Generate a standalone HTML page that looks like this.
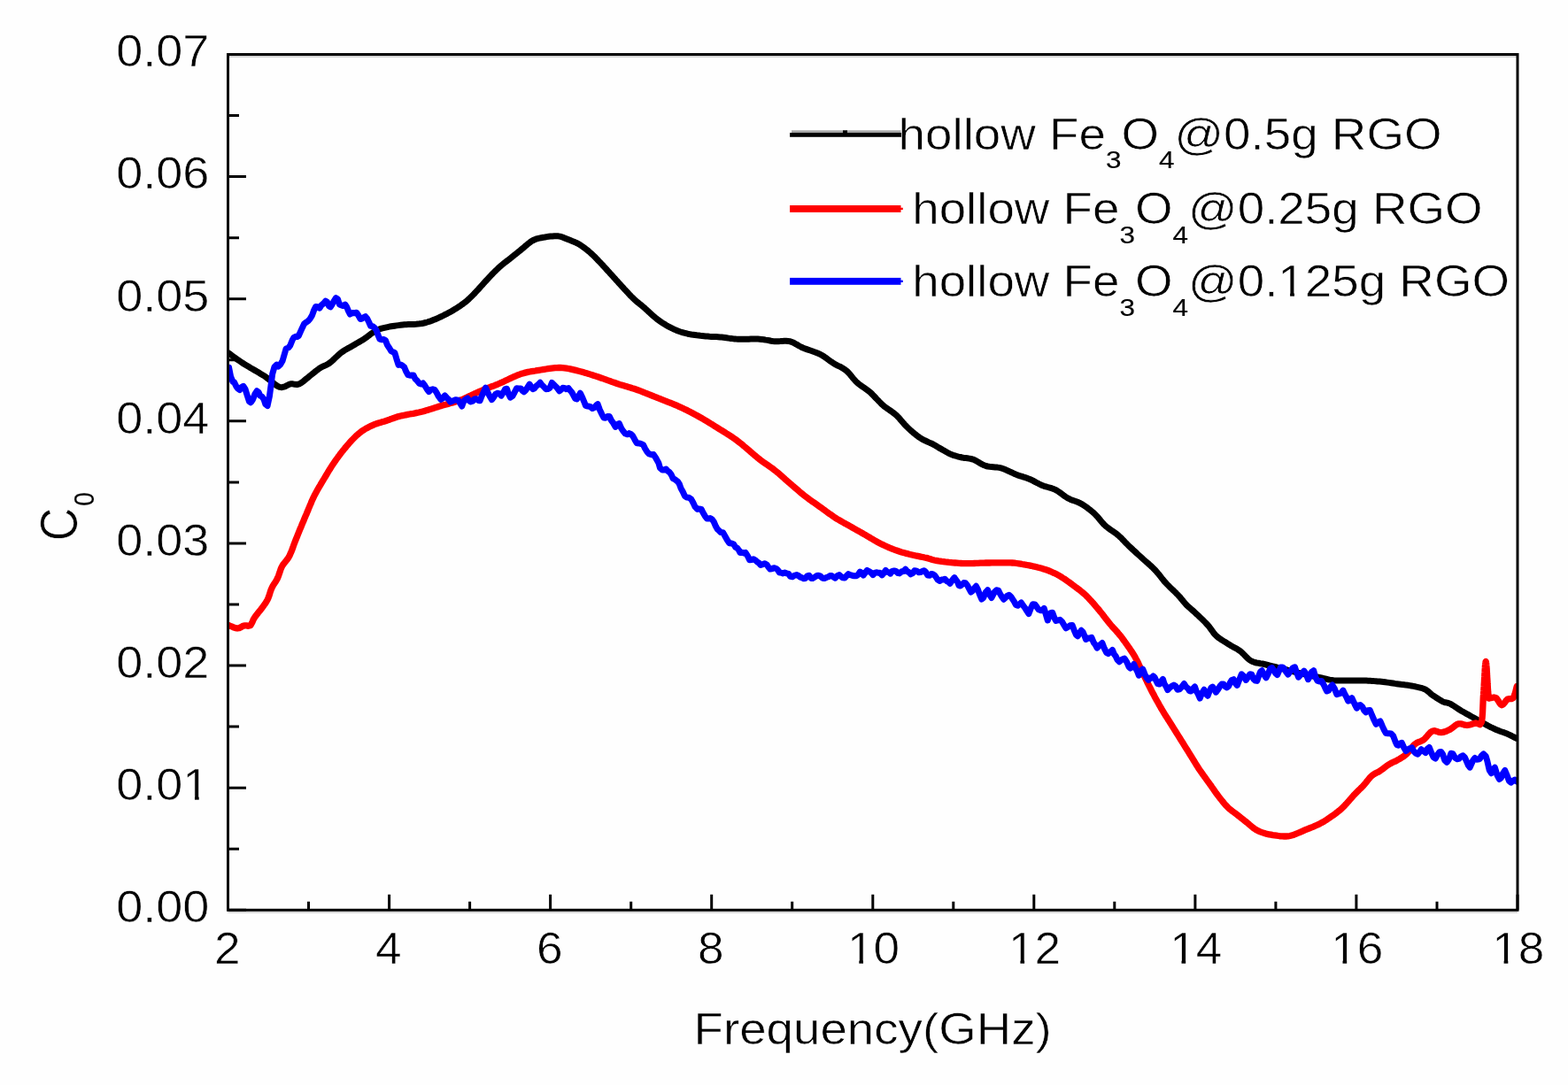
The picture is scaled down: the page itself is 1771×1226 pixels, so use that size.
<!DOCTYPE html>
<html><head><meta charset="utf-8"><title>C0 vs Frequency</title>
<style>
html,body{margin:0;padding:0;background:#fefefe;overflow:hidden}
svg{display:block}
text{font-family:"Liberation Sans",Arial,sans-serif;fill:#000;stroke:#fefefe;stroke-width:0.6px}
.s{stroke:#000;stroke-width:0.15px}
</style></head><body>
<svg width="1771" height="1226" viewBox="0 0 1771 1226">
<rect width="1771" height="1226" fill="#fefefe"/>
<defs><clipPath id="pc"><rect x="257.5" y="61.5" width="1456.5" height="966.8"/></clipPath></defs>
<g fill="none" stroke-linejoin="round" stroke-linecap="round" clip-path="url(#pc)">
<path d="M257.3 398.3L258.3 399.0L259.5 399.9L261.0 401.0L262.6 402.2L264.4 403.5L266.3 404.9L268.3 406.3L270.3 407.7L272.4 409.1L274.5 410.5L276.0 411.5L277.7 412.5L279.4 413.5L281.2 414.6L283.0 415.7L284.9 416.8L286.8 417.9L288.6 418.9L290.5 420.0L292.3 421.1L294.1 422.2L295.8 423.2L297.5 424.2L299.0 425.2L301.0 426.6L303.0 428.1L304.8 429.5L306.6 431.0L308.3 432.4L309.9 433.8L311.5 435.0L313.0 436.0L314.5 436.8L316.0 437.4L318.4 437.7L320.5 437.2L322.6 436.4L324.6 435.3L326.5 434.4L328.3 433.8L330.8 433.8L333.0 434.3L335.3 434.5L338.0 433.8L339.5 433.0L341.1 432.0L342.8 430.7L344.5 429.3L346.3 427.8L348.1 426.4L349.8 424.9L351.4 423.6L352.8 422.5L355.0 420.8L356.8 419.3L358.5 418.0L360.2 416.7L362.0 415.5L364.0 414.4L366.0 413.5L368.1 412.6L370.2 411.5L372.5 410.0L374.0 408.8L375.6 407.4L377.2 405.9L378.8 404.3L380.5 402.7L382.2 401.1L383.9 399.6L385.5 398.3L387.4 397.0L389.2 395.8L391.1 394.7L393.0 393.6L394.9 392.6L396.7 391.6L398.6 390.5L400.5 389.4L402.3 388.3L404.2 387.2L406.1 386.1L408.0 385.0L409.8 383.9L411.7 382.7L413.6 381.4L415.4 380.0L417.3 378.6L419.1 377.1L421.0 375.8L422.8 374.5L424.7 373.5L426.8 372.5L428.9 371.8L431.0 371.1L433.1 370.6L435.4 370.1L437.8 369.6L439.7 369.2L441.7 368.8L443.7 368.5L445.7 368.2L447.9 367.9L450.1 367.6L452.5 367.3L455.0 367.0L456.9 366.8L458.9 366.7L461.0 366.6L463.2 366.6L465.4 366.5L467.6 366.4L469.9 366.3L472.2 366.1L474.4 365.8L476.7 365.5L478.9 365.0L480.8 364.5L482.6 364.0L484.5 363.4L486.4 362.8L488.3 362.1L490.2 361.3L492.1 360.6L493.9 359.8L495.8 358.9L497.7 358.0L499.6 357.1L501.5 356.2L503.4 355.2L505.2 354.3L506.9 353.3L508.7 352.4L510.4 351.4L512.2 350.4L513.9 349.3L515.7 348.2L517.4 347.1L519.2 346.0L520.9 344.7L522.7 343.5L524.4 342.1L526.2 340.8L527.9 339.3L529.4 338.0L530.8 336.6L532.4 335.2L533.9 333.6L535.5 332.0L537.0 330.4L538.6 328.7L540.1 327.1L541.6 325.4L543.1 323.7L544.6 322.1L546.0 320.5L547.4 318.9L548.7 317.5L550.0 316.1L551.2 314.8L552.3 313.6L554.4 311.4L556.2 309.5L557.8 307.9L559.2 306.5L560.5 305.2L561.8 304.0L563.1 302.7L564.6 301.4L566.3 299.9L568.1 298.4L569.8 297.0L571.6 295.7L573.3 294.3L575.1 293.0L576.8 291.6L578.5 290.2L580.3 288.8L582.0 287.4L583.8 286.0L585.5 284.6L587.3 283.2L589.0 281.8L590.8 280.3L592.5 278.8L594.3 277.3L596.0 275.8L597.8 274.4L599.5 273.1L601.3 272.0L603.3 271.0L605.2 270.2L607.1 269.6L609.1 269.1L611.2 268.7L613.5 268.3L615.4 268.0L617.4 267.6L619.6 267.3L621.7 267.1L623.9 266.9L626.1 266.7L628.1 266.7L630.0 266.8L632.3 267.1L634.4 267.7L636.4 268.4L638.3 269.2L640.2 270.0L642.2 270.8L644.2 271.6L646.3 272.4L648.4 273.2L650.4 274.1L652.5 275.2L654.5 276.3L656.2 277.4L658.0 278.6L659.7 279.8L661.5 281.2L663.2 282.5L665.0 284.0L666.7 285.5L668.2 286.9L669.7 288.3L671.3 289.8L672.8 291.3L674.3 292.9L675.8 294.5L677.4 296.1L678.9 297.7L680.3 299.1L681.6 300.6L683.0 302.1L684.4 303.6L685.7 305.1L687.1 306.7L688.5 308.2L689.8 309.7L691.2 311.2L692.6 312.7L693.9 314.2L695.3 315.7L696.6 317.2L698.0 318.7L699.3 320.2L700.7 321.7L702.0 323.1L703.4 324.6L704.9 326.3L706.4 327.9L708.0 329.6L709.5 331.2L711.0 332.9L712.5 334.5L714.1 336.0L715.6 337.5L717.1 338.9L718.7 340.3L720.2 341.6L721.8 342.8L723.3 344.1L724.8 345.3L726.4 346.6L727.9 347.9L729.4 349.3L731.0 350.7L732.5 352.1L734.0 353.5L735.5 354.9L737.1 356.3L738.6 357.6L740.1 358.9L741.8 360.3L743.6 361.6L745.3 362.8L747.1 364.1L748.8 365.2L750.6 366.3L752.3 367.4L754.3 368.6L756.4 369.7L758.4 370.7L760.5 371.7L762.6 372.6L764.6 373.5L766.6 374.3L768.7 375.0L770.7 375.6L772.7 376.2L774.8 376.7L776.8 377.2L778.8 377.6L780.9 378.0L782.9 378.2L784.9 378.5L787.0 378.8L789.0 379.0L791.0 379.3L793.1 379.5L795.1 379.7L797.2 379.9L799.3 380.1L801.3 380.3L803.2 380.4L805.1 380.5L806.9 380.5L808.9 380.6L811.0 380.7L813.5 380.9L815.2 381.1L816.9 381.3L818.8 381.5L820.7 381.8L822.7 382.1L824.7 382.4L826.8 382.6L829.0 382.9L831.2 383.1L833.4 383.2L835.3 383.3L837.3 383.3L839.4 383.3L841.5 383.3L843.7 383.2L845.8 383.2L848.0 383.1L850.1 383.1L852.2 383.1L854.2 383.1L856.1 383.1L857.9 383.2L860.4 383.4L862.7 383.7L864.9 384.1L866.9 384.4L868.9 384.8L870.9 385.2L872.9 385.5L875.0 385.7L877.1 385.8L879.3 385.7L881.5 385.6L883.6 385.4L885.8 385.3L887.9 385.2L890.0 385.4L892.0 385.7L893.9 386.3L895.7 387.0L897.5 387.9L899.2 388.9L901.0 389.9L902.8 391.0L904.7 392.0L906.8 393.0L908.6 393.7L910.5 394.4L912.5 395.1L914.5 395.8L916.6 396.5L918.7 397.3L920.7 398.0L922.7 398.8L924.6 399.6L926.4 400.4L928.5 401.5L930.4 402.7L932.2 404.0L934.0 405.2L935.7 406.5L937.5 407.8L939.2 409.0L941.0 410.2L942.8 411.3L944.7 412.3L946.6 413.3L948.5 414.2L950.4 415.2L952.2 416.3L954.0 417.4L955.7 418.7L957.2 420.0L958.5 421.4L959.9 422.9L961.2 424.5L962.5 426.1L963.8 427.7L965.2 429.3L966.5 430.8L968.0 432.2L969.5 433.5L971.1 434.7L972.7 435.9L974.4 437.1L976.0 438.2L977.7 439.4L979.4 440.6L981.1 441.8L982.7 443.2L984.2 444.5L985.6 446.0L987.1 447.5L988.5 449.0L990.0 450.6L991.5 452.1L992.9 453.6L994.4 455.1L995.8 456.6L997.3 457.9L998.9 459.3L1000.6 460.5L1002.3 461.8L1004.0 462.9L1005.6 464.0L1007.3 465.2L1008.9 466.4L1010.5 467.6L1012.0 468.9L1013.5 470.3L1014.8 471.7L1016.2 473.2L1017.5 474.8L1018.8 476.3L1020.1 477.8L1021.5 479.4L1022.8 480.8L1024.3 482.3L1025.8 483.7L1027.4 485.2L1029.0 486.7L1030.7 488.1L1032.3 489.5L1034.0 490.9L1035.7 492.2L1037.4 493.5L1039.0 494.6L1040.9 495.8L1042.8 496.8L1044.7 497.8L1046.7 498.7L1048.6 499.6L1050.4 500.4L1052.1 501.1L1053.6 501.9L1056.1 503.3L1058.0 504.4L1059.9 505.6L1062.2 506.9L1064.0 507.9L1066.0 509.1L1068.1 510.3L1070.3 511.5L1072.4 512.6L1074.5 513.5L1076.5 514.3L1078.6 514.9L1080.6 515.5L1082.6 516.1L1084.7 516.5L1086.7 517.0L1088.7 517.4L1090.7 517.6L1092.7 517.8L1094.7 518.1L1096.8 518.5L1099.0 519.1L1100.7 519.8L1102.4 520.7L1104.2 521.7L1106.0 522.8L1107.8 523.9L1109.7 524.9L1111.6 525.8L1113.6 526.5L1115.6 527.0L1117.7 527.3L1119.8 527.5L1122.0 527.7L1124.2 527.9L1126.4 528.1L1128.5 528.4L1130.7 528.9L1132.6 529.5L1134.6 530.3L1136.5 531.1L1138.5 532.0L1140.4 532.9L1142.4 533.8L1144.3 534.7L1146.1 535.6L1147.9 536.3L1150.1 537.1L1152.3 537.8L1154.3 538.4L1156.4 539.1L1158.4 539.7L1160.4 540.4L1162.5 541.2L1164.3 542.0L1166.2 542.9L1168.0 543.9L1169.8 544.9L1171.7 545.8L1173.5 546.8L1175.4 547.7L1177.2 548.5L1179.3 549.3L1181.4 549.9L1183.5 550.5L1185.7 551.1L1187.8 551.7L1189.9 552.5L1192.0 553.4L1193.8 554.4L1195.7 555.6L1197.5 556.9L1199.3 558.2L1201.1 559.6L1202.9 560.9L1204.8 562.1L1206.6 563.2L1208.7 564.2L1210.8 565.1L1212.9 565.8L1215.0 566.5L1217.1 567.3L1219.2 568.2L1221.3 569.3L1222.9 570.3L1224.6 571.4L1226.3 572.5L1228.0 573.7L1229.6 575.0L1231.3 576.3L1232.9 577.6L1234.5 578.9L1236.0 580.3L1237.5 581.7L1238.8 583.2L1240.2 584.7L1241.5 586.3L1242.7 587.8L1244.0 589.4L1245.4 590.9L1246.7 592.4L1248.2 593.8L1249.7 595.1L1251.3 596.4L1253.0 597.6L1254.7 598.8L1256.4 600.0L1258.1 601.1L1259.8 602.3L1261.4 603.5L1262.9 604.8L1264.5 606.3L1266.1 607.7L1267.5 609.2L1269.0 610.7L1270.5 612.3L1271.9 613.8L1273.5 615.4L1275.1 617.0L1276.6 618.4L1278.2 619.9L1279.8 621.4L1281.5 622.9L1283.1 624.4L1284.8 626.0L1286.5 627.5L1288.2 629.0L1289.8 630.5L1291.4 632.0L1293.1 633.5L1294.8 635.0L1296.5 636.4L1298.1 637.9L1299.8 639.4L1301.4 640.9L1303.0 642.5L1304.5 644.0L1306.0 645.6L1307.3 647.2L1308.7 648.8L1310.0 650.4L1311.2 652.0L1312.5 653.7L1313.9 655.3L1315.2 657.0L1316.7 658.6L1318.1 660.1L1319.6 661.6L1321.1 663.2L1322.7 664.7L1324.3 666.2L1325.9 667.8L1327.4 669.2L1328.8 670.7L1330.2 672.0L1331.4 673.3L1333.1 675.2L1334.5 676.9L1335.8 678.5L1337.0 680.0L1338.3 681.5L1339.8 683.2L1341.1 684.5L1342.6 685.9L1344.1 687.2L1345.7 688.6L1347.3 690.0L1348.9 691.4L1350.4 692.9L1352.0 694.3L1353.6 695.8L1355.1 697.3L1356.7 698.8L1358.3 700.3L1359.9 701.9L1361.4 703.4L1362.9 705.0L1364.3 706.5L1365.8 708.3L1367.1 710.1L1368.4 711.9L1369.6 713.6L1370.9 715.4L1372.4 717.1L1374.0 718.7L1375.6 720.1L1377.4 721.4L1379.3 722.7L1381.2 723.9L1383.1 725.1L1385.1 726.3L1386.9 727.4L1388.7 728.5L1390.6 729.7L1392.4 730.7L1394.1 731.7L1395.9 732.6L1397.6 733.6L1399.3 734.7L1401.0 735.9L1402.5 737.2L1404.0 738.6L1405.5 740.1L1406.9 741.6L1408.4 743.2L1410.0 744.6L1411.6 745.9L1413.2 746.9L1415.2 747.8L1417.2 748.5L1419.3 749.0L1421.5 749.3L1423.6 749.7L1425.8 750.0L1427.9 750.5L1429.9 751.0L1431.8 751.5L1433.7 752.0L1435.6 752.4L1437.7 753.0L1440.0 753.5L1442.6 754.2L1444.3 754.6L1446.1 755.1L1448.1 755.6L1450.1 756.1L1452.2 756.6L1454.3 757.2L1456.5 757.7L1458.7 758.3L1460.8 758.8L1463.0 759.3L1465.0 759.8L1467.0 760.3L1469.1 760.8L1471.2 761.3L1473.3 761.8L1475.4 762.2L1477.4 762.7L1479.5 763.1L1481.5 763.6L1483.4 764.0L1485.3 764.4L1487.2 764.8L1489.0 765.2L1491.4 765.7L1493.6 766.2L1495.7 766.8L1497.8 767.2L1499.8 767.7L1501.9 768.1L1504.0 768.4L1506.2 768.7L1508.3 768.9L1510.4 769.0L1512.5 769.0L1514.7 769.1L1516.9 769.0L1519.1 769.0L1521.3 769.0L1523.5 769.0L1525.7 769.0L1527.9 769.0L1530.1 769.0L1532.3 769.0L1534.5 769.0L1536.8 769.0L1538.9 769.1L1541.1 769.1L1543.2 769.1L1545.3 769.2L1547.6 769.3L1549.7 769.4L1551.9 769.6L1554.0 769.7L1556.1 769.9L1558.2 770.1L1560.3 770.3L1562.4 770.5L1564.6 770.8L1566.8 771.1L1569.0 771.4L1571.2 771.7L1573.3 772.0L1575.5 772.4L1577.6 772.7L1579.6 773.0L1581.8 773.3L1584.0 773.6L1586.1 773.8L1588.1 774.1L1590.2 774.3L1592.2 774.6L1594.3 775.0L1596.4 775.4L1598.6 775.8L1600.9 776.3L1603.0 776.8L1605.2 777.3L1607.2 778.0L1609.0 778.7L1610.9 779.7L1612.5 780.9L1614.1 782.1L1615.5 783.5L1617.0 784.8L1618.7 786.0L1620.5 787.2L1622.5 788.5L1624.5 789.8L1626.5 791.0L1628.3 792.1L1630.0 793.0L1632.6 793.8L1634.7 794.1L1637.5 795.0L1639.1 795.9L1640.8 796.9L1642.7 798.1L1644.6 799.4L1646.6 800.7L1648.6 802.0L1650.5 803.2L1652.4 804.3L1654.2 805.3L1656.1 806.4L1658.0 807.4L1659.9 808.4L1661.7 809.5L1663.6 810.5L1665.5 811.6L1667.3 812.6L1669.2 813.7L1671.0 814.8L1672.9 815.8L1674.7 816.9L1676.6 817.9L1678.5 818.9L1680.3 819.9L1682.2 820.8L1684.1 821.8L1686.0 822.7L1687.8 823.6L1689.7 824.4L1691.9 825.3L1694.2 826.2L1696.4 827.0L1698.6 827.7L1700.7 828.5L1702.7 829.3L1705.0 830.4L1707.3 831.5L1709.4 832.6L1711.2 833.5L1712.5 834.2" stroke="#000" stroke-width="7.0"/>
<path d="M257.3 706.0L258.8 706.7L260.9 707.7L263.4 708.7L265.9 709.6L268.0 710.0L270.2 709.6L272.3 708.6L274.2 707.5L276.0 706.8L278.4 706.9L280.6 707.3L282.6 706.8L283.6 705.6L284.5 703.9L285.4 701.9L286.3 699.8L287.5 697.8L288.7 696.1L290.1 694.4L291.5 692.5L293.0 690.7L294.4 688.9L295.7 687.2L297.1 685.3L298.5 683.4L299.8 681.6L301.0 679.6L302.2 677.5L303.1 675.5L303.9 673.3L304.6 671.1L305.3 668.8L306.1 666.5L307.0 664.4L308.0 662.4L309.1 660.5L310.3 658.7L311.5 656.9L312.6 655.0L313.6 653.0L314.5 650.9L315.2 648.7L316.0 646.5L316.7 644.3L317.5 642.1L318.5 640.0L319.5 638.3L320.7 636.7L321.9 635.2L323.1 633.7L324.4 632.1L325.6 630.4L326.7 628.5L327.6 626.7L328.4 624.7L329.3 622.7L330.1 620.6L330.9 618.5L331.6 616.3L332.4 614.2L333.2 612.2L334.0 610.2L334.7 608.3L335.5 606.5L336.2 604.6L337.0 602.7L337.8 600.7L338.6 598.7L339.5 596.5L340.3 594.7L341.1 592.7L341.9 590.7L342.8 588.7L343.6 586.6L344.5 584.5L345.4 582.4L346.3 580.4L347.1 578.4L347.9 576.5L348.7 574.5L349.5 572.6L350.3 570.7L351.1 568.9L351.8 567.1L352.6 565.3L353.4 563.5L354.3 561.7L355.2 559.8L356.2 557.9L357.2 556.1L358.2 554.2L359.3 552.4L360.3 550.5L361.5 548.6L362.6 546.7L363.8 544.7L365.0 542.7L366.0 541.0L367.0 539.3L368.1 537.5L369.2 535.7L370.2 533.9L371.3 532.1L372.5 530.3L373.6 528.4L374.8 526.6L376.0 524.8L377.2 523.0L378.3 521.4L379.5 519.7L380.7 518.0L381.9 516.3L383.2 514.6L384.4 512.9L385.7 511.3L387.0 509.6L388.3 508.0L389.5 506.5L390.8 505.0L392.0 503.5L393.5 501.8L394.9 500.2L396.4 498.5L397.8 497.0L399.3 495.5L400.8 494.0L402.2 492.6L403.7 491.3L405.1 490.0L406.6 488.8L408.4 487.4L410.3 486.2L412.1 485.0L413.9 483.9L415.8 482.9L417.6 482.0L419.5 481.1L421.3 480.3L423.4 479.4L425.4 478.7L427.5 478.0L429.6 477.4L431.7 476.8L433.8 476.2L436.0 475.5L437.9 474.8L439.9 474.2L441.8 473.4L443.8 472.7L445.9 472.0L448.0 471.3L450.2 470.6L452.6 470.0L454.4 469.6L456.3 469.2L458.3 468.8L460.4 468.4L462.5 468.0L464.6 467.6L466.7 467.3L468.9 466.9L471.0 466.4L473.1 466.0L475.2 465.5L477.3 465.0L479.3 464.4L481.4 463.8L483.4 463.2L485.5 462.6L487.5 461.9L489.6 461.3L491.6 460.6L493.7 460.0L495.7 459.3L497.8 458.7L499.8 458.1L501.9 457.5L503.9 457.0L506.0 456.4L508.0 455.8L510.1 455.3L512.1 454.7L514.2 454.1L516.2 453.4L518.3 452.7L520.3 452.0L522.2 451.3L524.1 450.5L525.9 449.7L527.8 448.8L529.7 447.9L531.6 447.0L533.5 446.1L535.4 445.2L537.2 444.4L539.1 443.5L541.0 442.6L542.9 441.8L544.8 441.0L546.7 440.2L548.5 439.5L550.4 438.7L552.3 438.0L554.2 437.2L556.1 436.5L558.0 435.8L559.9 435.0L561.7 434.3L563.6 433.5L565.5 432.7L567.4 431.9L569.3 431.0L571.1 430.1L573.0 429.2L574.9 428.3L576.8 427.4L578.7 426.5L580.6 425.6L582.5 424.8L584.3 424.0L586.2 423.3L588.1 422.6L590.2 422.0L592.2 421.4L594.3 420.9L596.3 420.4L598.4 420.0L600.4 419.6L602.5 419.3L604.6 419.0L606.6 418.6L608.7 418.3L610.7 418.0L612.7 417.7L614.8 417.3L616.9 417.0L618.9 416.7L621.0 416.4L623.1 416.1L625.1 415.9L627.1 415.7L629.1 415.6L631.1 415.5L633.0 415.5L635.3 415.6L637.5 415.8L639.6 416.1L641.7 416.5L643.8 416.9L645.9 417.4L648.1 417.9L650.3 418.4L652.6 419.0L654.5 419.5L656.5 420.0L658.5 420.6L660.6 421.2L662.7 421.8L664.8 422.4L666.9 423.1L669.0 423.8L671.1 424.5L673.1 425.1L675.2 425.8L677.3 426.5L679.3 427.2L681.4 427.9L683.4 428.6L685.5 429.4L687.5 430.1L689.6 430.8L691.6 431.6L693.7 432.3L695.7 433.0L697.8 433.7L699.8 434.4L701.9 435.0L703.9 435.6L706.0 436.2L708.0 436.8L710.1 437.4L712.1 438.0L714.2 438.7L716.2 439.3L718.3 440.0L720.3 440.7L722.2 441.4L724.1 442.1L725.9 442.8L727.8 443.6L729.7 444.3L731.6 445.1L733.5 445.8L735.4 446.6L737.2 447.4L739.1 448.2L741.0 448.9L742.9 449.7L744.8 450.4L746.7 451.2L748.5 451.9L750.4 452.6L752.3 453.3L754.2 454.1L756.1 454.8L758.0 455.5L759.9 456.3L761.7 457.1L763.6 457.9L765.5 458.7L767.4 459.6L769.3 460.4L771.1 461.3L773.0 462.2L774.9 463.1L776.8 464.1L778.7 465.0L780.6 466.0L782.5 467.0L784.3 468.0L786.2 469.0L788.1 470.0L789.8 471.0L791.6 472.0L793.4 473.0L795.2 474.1L796.9 475.1L798.7 476.2L800.5 477.3L802.2 478.4L804.0 479.4L805.7 480.5L807.4 481.6L809.1 482.6L810.7 483.6L812.6 484.8L814.5 486.0L816.4 487.1L818.3 488.3L820.1 489.5L821.9 490.6L823.7 491.8L825.4 492.9L827.0 493.9L828.5 495.0L830.0 496.0L832.1 497.5L833.8 498.8L835.4 500.1L837.0 501.3L838.5 502.6L840.1 504.0L842.0 505.5L843.4 506.7L844.9 508.0L846.4 509.3L848.0 510.7L849.6 512.1L851.3 513.5L852.9 514.9L854.6 516.3L856.2 517.7L857.9 519.0L859.6 520.3L861.2 521.5L862.9 522.7L864.7 523.9L866.4 525.1L868.1 526.3L869.8 527.5L871.6 528.7L873.3 530.0L875.0 531.3L876.5 532.5L878.1 533.8L879.6 535.1L881.2 536.5L882.7 537.8L884.3 539.2L885.8 540.6L887.3 541.9L888.9 543.3L890.4 544.7L892.0 546.0L893.6 547.3L895.1 548.7L896.7 550.1L898.3 551.4L899.9 552.8L901.4 554.1L903.0 555.5L904.6 556.8L906.2 558.1L907.7 559.4L909.3 560.6L911.0 561.9L912.7 563.2L914.4 564.5L916.2 565.7L917.9 566.9L919.6 568.1L921.3 569.3L923.0 570.5L924.7 571.7L926.4 572.9L928.1 574.1L929.8 575.4L931.5 576.6L933.2 577.9L935.0 579.2L936.7 580.4L938.4 581.6L940.1 582.8L941.8 584.0L943.5 585.1L945.4 586.3L947.3 587.4L949.2 588.5L951.1 589.6L953.0 590.7L954.9 591.7L956.8 592.8L958.7 593.8L960.6 594.9L962.5 596.0L964.4 597.1L966.3 598.2L968.2 599.3L970.2 600.3L972.1 601.4L974.0 602.5L975.9 603.6L977.8 604.7L979.7 605.8L981.6 606.9L983.5 608.1L985.4 609.2L987.3 610.3L989.2 611.4L991.1 612.5L993.0 613.5L994.9 614.5L996.8 615.4L998.7 616.3L1000.6 617.2L1002.5 618.0L1004.4 618.9L1006.3 619.6L1008.2 620.4L1010.1 621.1L1012.0 621.8L1014.1 622.5L1016.2 623.2L1018.4 623.9L1020.5 624.5L1022.6 625.1L1024.7 625.6L1026.9 626.2L1029.0 626.7L1031.2 627.2L1033.4 627.7L1035.6 628.2L1037.9 628.6L1040.1 629.1L1042.2 629.5L1044.3 630.0L1046.3 630.4L1048.3 630.9L1050.1 631.4L1051.7 632.0L1053.3 632.5L1055.2 633.0L1057.3 633.4L1060.0 633.9L1061.7 634.1L1063.5 634.4L1065.4 634.6L1067.5 634.9L1069.6 635.1L1071.8 635.4L1074.1 635.6L1076.4 635.8L1078.7 636.0L1081.0 636.2L1083.3 636.4L1085.5 636.5L1087.7 636.6L1089.8 636.7L1092.0 636.7L1094.1 636.7L1096.2 636.6L1098.4 636.6L1100.5 636.5L1102.7 636.4L1104.8 636.3L1107.0 636.2L1109.1 636.2L1111.2 636.1L1113.4 636.0L1115.5 636.0L1117.7 636.0L1119.9 635.9L1122.1 635.9L1124.4 635.9L1126.7 635.8L1128.9 635.8L1131.2 635.8L1133.3 635.8L1135.5 635.8L1137.6 635.8L1139.5 635.9L1141.4 635.9L1143.2 636.0L1145.9 636.2L1148.3 636.5L1150.6 636.8L1152.7 637.1L1154.6 637.5L1156.5 637.8L1158.3 638.2L1160.0 638.5L1162.5 638.9L1164.6 639.3L1166.6 639.8L1168.6 640.2L1170.9 640.8L1172.7 641.3L1174.7 641.8L1176.7 642.3L1178.7 642.9L1180.7 643.5L1182.8 644.2L1184.8 645.0L1186.8 645.8L1188.7 646.7L1190.7 647.6L1192.7 648.6L1194.7 649.6L1196.6 650.7L1198.6 651.9L1200.3 653.0L1202.1 654.1L1203.8 655.3L1205.5 656.5L1207.3 657.7L1209.0 659.0L1210.8 660.3L1212.5 661.6L1214.2 662.9L1216.0 664.2L1217.7 665.5L1219.5 666.8L1221.2 668.2L1222.9 669.6L1224.7 671.1L1226.4 672.7L1227.8 674.1L1229.2 675.5L1230.5 676.9L1231.9 678.4L1233.3 680.0L1234.7 681.5L1236.1 683.1L1237.4 684.7L1238.8 686.4L1240.2 688.0L1241.5 689.5L1242.8 691.2L1244.1 692.8L1245.5 694.5L1246.8 696.3L1248.1 698.0L1249.4 699.6L1250.7 701.2L1251.9 702.8L1253.0 704.2L1254.1 705.5L1255.8 707.5L1257.4 709.3L1258.8 710.8L1260.0 712.1L1261.3 713.5L1262.6 715.0L1263.8 716.5L1265.0 717.9L1266.1 719.2L1267.2 720.7L1268.5 722.5L1270.0 724.5L1271.0 725.9L1272.1 727.5L1273.3 729.1L1274.5 730.8L1275.8 732.6L1277.0 734.5L1278.3 736.4L1279.5 738.2L1280.7 740.1L1281.8 742.0L1282.8 743.9L1283.8 745.7L1284.8 747.6L1285.7 749.6L1286.6 751.5L1287.5 753.5L1288.4 755.5L1289.3 757.5L1290.2 759.5L1291.2 761.5L1292.1 763.4L1293.1 765.3L1294.0 767.2L1295.0 769.2L1295.9 771.1L1296.9 773.1L1297.9 775.1L1298.9 777.0L1299.9 779.0L1300.8 780.8L1301.8 782.7L1302.9 784.7L1303.9 786.7L1305.0 788.7L1306.0 790.6L1307.1 792.5L1308.2 794.4L1309.2 796.3L1310.3 798.1L1311.3 800.0L1312.4 801.8L1313.5 803.6L1314.5 805.3L1315.6 807.1L1316.6 808.8L1317.7 810.4L1318.8 812.1L1319.8 813.8L1320.9 815.4L1321.9 817.1L1323.0 818.8L1324.2 820.7L1325.4 822.6L1326.5 824.4L1327.7 826.3L1328.9 828.2L1330.1 830.1L1331.2 831.9L1332.4 833.8L1333.6 835.7L1334.7 837.4L1335.7 839.1L1336.8 840.8L1337.8 842.5L1338.9 844.2L1340.0 845.9L1341.0 847.6L1342.1 849.3L1343.1 851.0L1344.2 852.7L1345.3 854.4L1346.3 856.1L1347.4 857.9L1348.4 859.6L1349.5 861.3L1350.6 863.1L1351.6 864.8L1352.7 866.4L1353.7 868.1L1354.8 869.7L1356.0 871.4L1357.2 873.1L1358.3 874.8L1359.5 876.4L1360.7 878.0L1361.9 879.6L1363.0 881.2L1364.2 882.9L1365.4 884.5L1366.6 886.2L1367.8 887.8L1368.9 889.5L1370.1 891.2L1371.3 892.9L1372.5 894.6L1373.6 896.2L1374.8 897.8L1376.0 899.4L1377.3 901.1L1378.6 902.8L1380.0 904.5L1381.3 906.1L1382.6 907.7L1383.9 909.3L1385.3 910.7L1386.6 912.1L1388.4 913.8L1390.2 915.2L1391.9 916.6L1393.7 917.9L1395.5 919.2L1397.3 920.6L1399.1 922.0L1400.8 923.4L1402.6 924.8L1404.4 926.2L1406.1 927.6L1407.9 929.0L1409.7 930.5L1411.4 932.0L1413.2 933.5L1415.0 935.0L1416.7 936.3L1418.5 937.5L1420.6 938.7L1422.7 939.6L1424.8 940.4L1426.9 941.1L1429.0 941.8L1431.1 942.4L1433.3 942.8L1435.4 943.2L1437.6 943.6L1439.7 943.9L1441.8 944.2L1444.0 944.5L1446.2 944.8L1448.3 944.9L1450.3 945.0L1452.6 945.0L1454.7 944.9L1457.0 944.5L1459.7 943.8L1461.5 943.2L1463.5 942.4L1465.6 941.5L1467.8 940.6L1470.1 939.6L1472.3 938.6L1474.4 937.7L1476.5 936.8L1478.6 936.0L1480.8 935.1L1482.9 934.3L1485.0 933.4L1487.0 932.5L1489.0 931.6L1490.9 930.7L1492.6 929.7L1494.3 928.8L1496.0 927.8L1497.7 926.7L1499.4 925.6L1501.3 924.3L1502.8 923.2L1504.4 922.1L1506.1 921.0L1507.7 919.8L1509.4 918.5L1511.1 917.2L1512.7 915.9L1514.4 914.4L1516.0 913.0L1517.4 911.6L1518.9 910.1L1520.3 908.6L1521.8 906.9L1523.2 905.3L1524.6 903.7L1526.0 902.1L1527.3 900.6L1528.6 899.1L1529.8 897.8L1531.7 895.9L1533.4 894.2L1534.9 892.7L1536.5 891.2L1538.0 889.7L1539.6 888.0L1541.0 886.4L1542.4 884.7L1543.8 882.9L1545.2 881.2L1546.6 879.5L1548.0 877.9L1549.4 876.6L1551.3 875.1L1553.2 874.0L1555.1 873.0L1557.1 872.1L1559.0 870.9L1560.6 869.7L1562.3 868.5L1564.0 867.2L1565.7 865.9L1567.3 864.7L1569.0 863.6L1571.0 862.5L1572.9 861.5L1574.8 860.7L1576.8 859.8L1578.7 858.7L1580.7 857.6L1582.6 856.4L1584.6 855.2L1586.5 853.8L1588.5 852.1L1589.9 850.7L1591.3 849.0L1592.7 847.2L1594.1 845.4L1595.5 843.6L1596.9 842.0L1598.3 840.7L1600.2 839.4L1602.2 838.5L1604.1 837.8L1606.0 837.0L1608.0 835.8L1609.6 834.3L1611.3 832.5L1612.9 830.5L1614.6 828.6L1616.3 827.0L1617.9 826.0L1620.4 825.7L1622.8 826.4L1625.3 827.4L1627.7 827.7L1629.7 827.4L1631.6 826.9L1633.6 826.2L1635.5 825.3L1637.5 824.4L1639.4 823.2L1641.4 821.6L1643.3 820.1L1645.3 818.7L1647.2 817.9L1649.6 817.8L1652.1 818.4L1654.5 819.2L1657.0 819.5L1659.0 819.2L1661.1 818.7L1663.1 818.1L1665.1 817.5L1666.8 817.0L1669.4 817.7L1671.6 818.7L1673.3 816.2L1673.6 815.0L1673.8 813.6L1674.0 812.0L1674.2 810.2L1674.3 808.3L1674.5 806.2L1674.6 804.0L1674.7 801.7L1674.8 799.4L1674.9 797.0L1675.0 794.6L1675.1 792.1L1675.2 789.7L1675.3 787.3L1675.5 785.0L1675.6 783.0L1675.8 780.7L1675.9 778.3L1676.1 775.7L1676.2 773.0L1676.4 770.3L1676.5 767.5L1676.7 764.7L1676.8 762.1L1677.0 759.5L1677.1 757.1L1677.3 754.8L1677.4 752.8L1677.6 751.1L1677.7 749.7L1677.9 748.6L1678.0 747.9L1678.2 747.7L1678.4 748.0L1678.5 748.8L1678.7 750.0L1678.8 751.6L1679.0 753.6L1679.2 755.9L1679.3 758.4L1679.5 761.0L1679.6 763.8L1679.8 766.6L1680.0 769.5L1680.1 772.3L1680.3 775.0L1680.4 777.6L1680.6 779.9L1680.7 781.9L1680.9 783.7L1681.0 785.0L1681.8 789.1L1683.1 788.5L1685.0 788.5L1687.3 788.0L1689.7 788.5L1691.0 789.9L1692.3 791.9L1693.6 794.1L1694.9 795.9L1696.2 796.7L1697.8 796.0L1699.5 794.0L1701.1 791.7L1702.7 790.1L1705.0 789.6L1707.2 789.7L1709.2 788.5L1710.1 786.8L1710.9 784.5L1711.7 781.9L1712.3 779.3L1712.9 777.0L1713.3 775.5" stroke="#f00" stroke-width="7.3"/>
<path d="M258.6 415.4L260.6 425.7L263.0 431.4L264.6 431.9L266.9 436.7L268.9 439.2L270.7 440.6L272.4 437.8L274.9 436.3L277.0 439.6L279.2 446.7L281.4 453.5L283.1 454.9L285.5 451.4L288.0 445.1L290.1 441.8L292.2 443.4L293.8 447.2L295.9 448.2L298.0 451.1L299.9 456.8L302.1 458.5L304.4 447.7L306.0 435.7L307.7 422.4L310.0 414.5L312.5 412.2L314.2 414.0L316.7 411.8L319.2 407.4L321.3 400.1L323.1 394.0L325.7 392.9L327.7 390.5L330.2 384.2L331.9 381.3L333.9 380.3L335.6 380.6L337.3 379.5L339.6 374.4L341.4 370.4L343.5 366.0L345.6 364.3L348.1 362.6L350.0 360.5L352.5 356.4L354.7 350.3L356.6 346.5L358.7 346.8L361.0 348.1L362.8 345.2L365.3 343.0L367.8 340.2L369.5 341.3L371.5 345.7L373.2 346.8L374.9 344.5L377.2 340.1L379.4 336.7L381.5 338.2L383.4 344.0L385.8 345.0L387.6 345.6L389.8 344.1L391.6 346.7L393.5 351.4L395.4 355.0L398.0 353.6L400.2 353.8L402.7 353.3L404.7 356.3L407.1 360.5L408.8 360.1L410.9 358.7L412.8 357.7L414.5 359.7L416.7 364.0L418.6 368.4L420.9 368.7L422.7 370.0L425.0 372.9L426.7 377.8L428.9 383.1L431.4 383.8L433.5 383.5L435.4 384.5L437.4 389.8L439.9 393.5L441.8 396.6L443.8 397.7L445.8 398.5L447.9 405.6L450.1 412.4L452.2 411.9L454.6 413.2L456.5 414.7L458.6 419.6L460.8 423.7L463.0 424.2L464.7 424.1L467.1 424.1L468.8 427.9L471.3 430.3L473.5 433.2L475.8 434.1L477.7 433.0L480.0 436.0L482.4 439.9L484.3 442.6L486.6 440.4L488.8 439.8L491.1 440.6L493.1 443.7L495.3 447.8L497.8 451.3L500.2 450.0L502.5 447.0L504.8 449.6L506.8 451.3L508.6 454.2L511.1 453.3L512.9 452.3L514.9 451.7L517.5 452.1L519.4 455.2L521.7 459.0L523.4 454.3L525.5 451.4L528.0 449.9L529.7 452.5L531.5 453.9L533.9 453.1L535.7 451.0L537.6 450.6L539.9 452.3L542.1 452.8L544.1 447.6L546.6 442.2L548.6 438.1L551.1 443.8L553.0 447.5L555.5 451.6L557.5 449.1L559.6 445.5L562.2 444.3L564.0 444.9L566.1 447.1L568.5 443.4L570.7 439.6L572.5 439.2L574.3 445.0L576.4 449.1L579.0 447.3L581.2 443.3L583.5 438.7L586.0 438.9L588.4 438.9L590.3 441.7L591.9 442.8L594.0 440.7L596.2 437.2L598.1 434.2L600.1 437.4L601.8 439.6L603.6 439.0L605.7 436.2L608.2 434.2L610.1 432.3L612.0 434.8L614.3 437.2L616.6 439.7L618.6 439.6L621.2 438.1L623.4 432.4L625.4 434.4L627.2 436.3L629.3 438.3L631.9 441.8L633.7 440.3L635.6 438.3L637.7 438.4L639.7 439.7L641.9 438.5L643.7 440.8L645.7 443.0L647.8 446.8L649.7 450.5L651.4 451.0L653.1 448.4L655.4 444.2L657.4 448.4L659.6 453.6L661.5 458.5L663.2 459.0L664.9 459.1L666.9 459.7L669.1 461.5L671.6 460.3L673.5 458.0L675.1 456.6L677.4 463.0L679.8 468.1L682.0 472.0L683.9 472.2L686.2 470.6L688.2 470.4L690.5 475.1L692.8 478.2L695.1 482.4L697.3 479.4L699.4 478.6L701.7 483.9L703.8 487.1L706.2 490.0L708.8 490.8L710.6 489.6L712.4 490.4L714.7 492.6L717.3 497.4L719.3 500.8L721.9 500.9L724.4 501.6L726.6 502.6L728.4 506.5L731.0 510.8L733.2 513.0L735.6 513.7L738.1 513.6L740.3 516.7L742.1 520.0L743.8 522.9L745.5 528.9L748.1 531.0L750.0 531.1L752.3 530.0L754.5 532.5L756.1 533.5L758.2 536.4L760.2 540.8L762.0 541.5L763.8 542.8L765.8 544.5L767.4 547.1L769.1 551.9L771.3 555.8L773.4 560.4L775.6 562.1L778.0 562.3L780.6 563.9L783.0 568.3L785.1 572.7L787.6 575.4L789.7 575.1L792.2 575.4L793.9 579.0L796.4 583.3L798.6 586.1L800.5 586.1L802.1 585.5L804.2 586.7L806.2 589.5L808.5 594.8L810.3 597.9L812.3 599.8L814.0 601.5L816.6 601.7L819.0 606.0L821.4 610.3L823.8 613.8L826.3 614.0L828.7 615.0L830.8 618.5L832.4 619.0L834.3 621.4L836.0 624.5L838.4 624.3L840.3 625.1L842.0 624.3L844.5 628.3L846.6 632.7L849.2 632.4L851.0 631.8L853.5 633.3L855.3 635.0L857.2 636.1L859.0 638.5L861.6 637.6L863.8 636.7L866.3 638.2L868.0 641.0L869.9 643.1L872.4 642.5L874.1 641.7L876.7 642.5L878.4 643.9L880.3 647.0L882.1 647.1L883.9 647.9L886.3 647.1L888.5 647.9L890.7 648.4L892.6 651.4L894.9 651.8L897.1 650.3L899.7 649.6L901.9 650.5L903.5 651.9L905.4 652.6L907.8 653.7L909.7 653.5L911.5 651.1L913.7 650.2L916.2 653.5L917.8 653.6L920.2 652.1L922.7 650.5L924.5 650.2L926.7 651.1L929.0 653.3L931.1 653.6L933.5 652.5L935.6 651.8L937.4 650.5L939.2 650.6L941.0 651.7L943.4 653.2L945.8 650.6L947.9 649.5L950.1 651.5L951.7 652.8L954.0 653.0L956.5 650.3L958.2 648.6L960.3 649.6L962.4 650.2L964.8 650.7L967.3 650.7L969.4 649.1L971.3 646.1L973.2 647.2L975.1 650.0L977.2 647.4L979.4 644.4L981.8 645.8L983.7 647.0L986.0 649.6L988.3 647.1L990.4 646.8L992.2 647.3L993.8 647.3L996.2 649.9L997.9 648.0L1000.3 644.5L1002.1 646.4L1003.8 646.7L1005.7 648.1L1007.4 645.7L1010.0 644.9L1012.4 645.6L1014.2 647.6L1016.0 647.9L1018.6 645.8L1020.5 645.5L1022.7 643.3L1024.7 645.8L1026.4 646.3L1028.7 648.8L1030.9 647.6L1032.9 644.8L1035.4 645.3L1037.8 646.8L1039.7 646.6L1041.9 645.5L1043.7 644.7L1045.7 646.4L1047.8 650.0L1050.1 650.2L1051.9 648.5L1053.5 648.7L1055.5 649.9L1057.1 652.0L1059.0 655.0L1061.5 656.5L1063.4 655.0L1065.1 655.0L1067.1 654.2L1069.4 656.7L1071.0 657.4L1073.0 659.4L1075.5 655.7L1077.9 652.6L1079.5 654.9L1081.4 657.3L1083.1 661.6L1084.7 662.0L1086.8 660.3L1088.5 658.6L1090.4 658.7L1092.6 661.4L1094.4 664.8L1096.7 669.0L1098.7 667.5L1100.6 664.3L1102.5 662.3L1104.1 665.3L1106.4 671.5L1108.8 677.0L1110.7 675.5L1113.2 669.3L1115.5 666.7L1118.0 672.4L1119.9 675.5L1121.6 672.2L1123.6 668.5L1125.5 666.8L1127.6 667.1L1129.4 670.7L1131.5 674.2L1133.7 677.2L1135.4 675.7L1137.5 673.4L1139.6 672.3L1141.8 674.1L1143.4 676.6L1145.4 679.6L1147.4 683.5L1149.5 684.3L1151.5 682.6L1153.4 681.0L1155.3 683.7L1157.5 686.7L1159.8 690.4L1161.9 693.5L1164.4 687.0L1166.6 682.7L1169.0 682.9L1171.2 686.1L1173.2 688.8L1175.6 689.8L1177.6 689.6L1179.2 687.4L1181.3 694.1L1183.3 701.0L1185.1 695.7L1186.9 692.5L1188.7 692.3L1190.9 698.3L1192.7 701.5L1195.0 700.8L1197.2 700.3L1199.6 702.5L1201.5 705.9L1204.0 709.8L1206.3 708.4L1208.6 706.8L1211.1 706.4L1213.3 712.3L1215.4 717.2L1217.3 718.8L1219.5 714.8L1221.3 712.3L1223.1 714.2L1224.8 718.1L1226.5 722.5L1228.8 721.1L1230.8 721.2L1232.9 720.3L1235.4 726.3L1237.0 728.2L1239.1 732.2L1241.1 730.1L1243.0 728.2L1244.9 726.5L1247.3 732.7L1249.7 737.4L1251.7 738.6L1253.9 736.8L1256.4 734.4L1258.3 739.1L1260.2 741.5L1261.8 745.2L1264.3 747.7L1266.0 746.1L1268.1 744.7L1270.1 744.0L1272.7 748.1L1275.0 753.5L1276.6 755.1L1278.9 753.7L1280.7 750.5L1282.3 754.3L1284.4 758.3L1286.3 763.2L1288.7 758.0L1290.7 756.1L1293.1 762.1L1295.1 766.0L1297.2 768.3L1299.0 765.9L1300.7 766.2L1302.5 763.9L1304.2 765.5L1305.9 769.2L1307.6 772.7L1309.5 773.1L1311.6 769.7L1313.4 767.4L1315.1 772.8L1317.0 775.6L1318.8 779.5L1321.4 776.8L1323.8 775.1L1325.8 774.1L1327.8 775.3L1330.0 779.2L1332.2 778.8L1334.8 776.0L1337.4 772.5L1339.8 776.4L1341.6 777.6L1343.3 780.6L1345.0 781.0L1347.4 778.1L1349.5 776.0L1351.3 781.3L1352.9 783.6L1355.3 789.0L1357.6 783.1L1360.0 779.3L1362.4 784.3L1364.1 786.2L1366.1 781.0L1368.0 777.0L1369.6 776.1L1371.4 778.6L1373.4 782.2L1375.8 778.9L1378.0 775.2L1379.9 773.1L1381.8 772.9L1383.8 775.6L1385.6 776.9L1387.7 775.4L1389.5 771.1L1391.2 768.5L1393.3 767.7L1395.4 772.2L1397.3 774.4L1399.9 767.7L1402.3 761.8L1404.7 763.9L1407.3 768.4L1409.8 764.8L1411.8 761.8L1413.6 761.9L1415.9 767.4L1417.8 769.0L1419.8 769.4L1421.5 764.3L1423.5 759.3L1425.3 757.8L1427.8 762.6L1430.0 765.9L1432.2 761.7L1434.6 755.4L1436.7 754.6L1438.7 757.3L1440.5 760.6L1442.7 762.5L1444.3 758.9L1446.4 754.1L1448.6 753.9L1450.3 755.3L1452.9 759.7L1454.8 762.1L1457.4 758.5L1459.9 755.0L1462.5 753.8L1464.3 759.3L1466.6 765.2L1469.0 762.4L1471.1 760.4L1472.8 758.1L1475.1 761.2L1477.5 767.7L1479.6 764.2L1481.4 759.4L1483.7 757.7L1485.8 765.3L1487.9 769.1L1490.3 770.0L1492.7 769.5L1495.2 773.9L1497.0 777.8L1498.7 781.0L1500.6 780.3L1503.0 775.7L1504.8 774.0L1507.3 778.0L1509.8 784.6L1512.4 783.9L1514.6 783.2L1516.9 780.1L1519.2 784.9L1520.8 787.8L1522.7 792.1L1524.6 791.7L1526.9 788.7L1528.6 792.4L1530.7 796.9L1532.4 800.2L1534.6 797.0L1536.4 796.6L1538.7 798.6L1540.7 802.8L1542.7 804.8L1544.9 802.8L1547.3 802.5L1549.4 807.7L1551.9 813.5L1554.2 818.3L1556.4 816.1L1558.9 814.9L1561.3 820.5L1563.4 825.0L1565.4 828.6L1567.6 828.7L1569.2 828.7L1571.1 828.9L1573.7 831.7L1576.0 837.9L1577.8 841.6L1579.5 842.2L1581.4 840.1L1583.3 839.4L1585.8 845.0L1587.9 848.6L1590.4 846.7L1592.4 845.7L1594.7 844.9L1596.7 848.7L1599.2 851.3L1601.4 852.2L1603.4 849.6L1605.3 846.8L1607.5 848.5L1610.1 850.6L1612.1 846.2L1614.3 844.5L1616.9 851.0L1619.0 855.5L1621.3 857.0L1623.8 852.6L1625.8 849.8L1627.8 849.6L1629.5 852.2L1631.7 859.0L1634.1 861.4L1636.5 857.9L1638.9 851.3L1640.9 851.6L1643.4 856.2L1645.9 857.7L1647.8 857.4L1650.0 854.9L1652.4 853.8L1654.5 856.0L1656.6 860.6L1658.3 864.6L1660.2 867.1L1662.1 862.9L1663.7 859.1L1665.8 856.5L1667.8 858.2L1669.5 858.0L1671.3 857.6L1673.4 853.8L1675.6 851.9L1678.2 854.5L1679.8 859.8L1682.2 870.3L1684.5 873.7L1686.7 869.0L1688.4 867.3L1690.9 875.6L1693.4 880.5L1695.4 878.9L1697.3 874.2L1699.8 870.5L1701.9 875.5L1704.4 882.3L1706.5 884.2L1709.0 882.1L1710.9 881.1L1713.3 883.1" stroke="#00f" stroke-width="7.0"/>
</g>
<g stroke="#000" fill="none">
<path d="M257.5 64.0H1714.0M257.5 1030.8H1714.0" stroke="#d4d4d4" stroke-width="2"/>
<rect x="257.5" y="61.5" width="1456.5" height="966.8" stroke-width="3"/>
<path d="M257.5 1028.3H278.0M257.5 959.2H270.0M257.5 890.2H278.0M257.5 821.1H270.0M257.5 752.1H278.0M257.5 683.0H270.0M257.5 614.0H278.0M257.5 544.9H270.0M257.5 475.8H278.0M257.5 406.8H270.0M257.5 337.7H278.0M257.5 268.7H270.0M257.5 199.6H278.0M257.5 130.6H270.0M257.5 61.5H278.0M257.5 1028.3V1010.8M348.5 1028.3V1018.8M439.6 1028.3V1010.8M530.6 1028.3V1018.8M621.6 1028.3V1010.8M712.7 1028.3V1018.8M803.7 1028.3V1010.8M894.7 1028.3V1018.8M985.8 1028.3V1010.8M1076.8 1028.3V1018.8M1167.8 1028.3V1010.8M1258.8 1028.3V1018.8M1349.9 1028.3V1010.8M1440.9 1028.3V1018.8M1531.9 1028.3V1010.8M1623.0 1028.3V1018.8M1714.0 1028.3V1010.8" stroke-width="3"/>
</g>
<text transform="translate(131.2 1042.1) scale(1.088 1)" font-size="49.7">0.00</text>
<text transform="translate(131.2 904.0) scale(1.088 1)" font-size="49.7">0.01</text>
<rect transform="translate(131.2 904.0) scale(1.088 1)" x="71.86" y="-4.51" width="9.71" height="5.71" fill="#fefefe"/><rect transform="translate(131.2 904.0) scale(1.088 1)" x="85.96" y="-4.51" width="9.32" height="5.71" fill="#fefefe"/>
<text transform="translate(131.2 765.9) scale(1.088 1)" font-size="49.7">0.02</text>
<text transform="translate(131.2 627.8) scale(1.088 1)" font-size="49.7">0.03</text>
<text transform="translate(131.2 489.6) scale(1.088 1)" font-size="49.7">0.04</text>
<text transform="translate(131.2 351.5) scale(1.088 1)" font-size="49.7">0.05</text>
<text transform="translate(131.2 213.4) scale(1.088 1)" font-size="49.7">0.06</text>
<text transform="translate(131.2 75.3) scale(1.088 1)" font-size="49.7">0.07</text>
<text transform="translate(256.7 1089.1) scale(1.07 1)" font-size="49.7" text-anchor="middle">2</text>
<text transform="translate(438.8 1089.1) scale(1.07 1)" font-size="49.7" text-anchor="middle">4</text>
<text transform="translate(620.8 1089.1) scale(1.07 1)" font-size="49.7" text-anchor="middle">6</text>
<text transform="translate(802.9 1089.1) scale(1.07 1)" font-size="49.7" text-anchor="middle">8</text>
<text transform="translate(986.5 1089.1) scale(1.07 1)" font-size="49.7" text-anchor="middle">10</text>
<rect transform="translate(986.5 1089.1) scale(1.07 1)" x="-24.84" y="-4.51" width="9.71" height="5.71" fill="#fefefe"/><rect transform="translate(986.5 1089.1) scale(1.07 1)" x="-10.74" y="-4.51" width="9.32" height="5.71" fill="#fefefe"/>
<text transform="translate(1168.6 1089.1) scale(1.07 1)" font-size="49.7" text-anchor="middle">12</text>
<rect transform="translate(1168.6 1089.1) scale(1.07 1)" x="-24.84" y="-4.51" width="9.71" height="5.71" fill="#fefefe"/><rect transform="translate(1168.6 1089.1) scale(1.07 1)" x="-10.74" y="-4.51" width="9.32" height="5.71" fill="#fefefe"/>
<text transform="translate(1350.7 1089.1) scale(1.07 1)" font-size="49.7" text-anchor="middle">14</text>
<rect transform="translate(1350.7 1089.1) scale(1.07 1)" x="-24.84" y="-4.51" width="9.71" height="5.71" fill="#fefefe"/><rect transform="translate(1350.7 1089.1) scale(1.07 1)" x="-10.74" y="-4.51" width="9.32" height="5.71" fill="#fefefe"/>
<text transform="translate(1532.7 1089.1) scale(1.07 1)" font-size="49.7" text-anchor="middle">16</text>
<rect transform="translate(1532.7 1089.1) scale(1.07 1)" x="-24.84" y="-4.51" width="9.71" height="5.71" fill="#fefefe"/><rect transform="translate(1532.7 1089.1) scale(1.07 1)" x="-10.74" y="-4.51" width="9.32" height="5.71" fill="#fefefe"/>
<text transform="translate(1714.8 1089.1) scale(1.07 1)" font-size="49.7" text-anchor="middle">18</text>
<rect transform="translate(1714.8 1089.1) scale(1.07 1)" x="-24.84" y="-4.51" width="9.71" height="5.71" fill="#fefefe"/><rect transform="translate(1714.8 1089.1) scale(1.07 1)" x="-10.74" y="-4.51" width="9.32" height="5.71" fill="#fefefe"/>
<text transform="translate(783.6 1179.8) scale(1.083 1)" font-size="50.5">Frequency(GHz)</text>
<text transform="translate(86.5 611.2) rotate(-90) scale(1 1.14)" font-size="52">C</text>
<text transform="translate(105.6 571.7) rotate(-90) scale(1 1.09)" font-size="28" class="s">0</text>
<rect x="894" y="147.3" width="123.5" height="2.9" fill="#a4a4a4"/>
<rect x="952" y="147.3" width="5" height="3" fill="#000"/>
<rect x="892.1" y="150" width="126.5" height="4.8" fill="#000"/>
<text transform="translate(1014.6 168.6) scale(1.104 1)" font-size="49.6">hollow Fe<tspan class="s" font-size="28.5" dy="21.4">3</tspan><tspan dy="-21.4">O</tspan><tspan class="s" font-size="28.5" dy="21.4">4</tspan><tspan dy="-21.4">@0.5g RGO</tspan></text>
<rect x="892.1" y="232.0" width="125.4" height="7.9" fill="#f00"/>
<rect x="1017" y="234.7" width="2.8" height="2.4" fill="#f00"/>
<text transform="translate(1030.2 253.4) scale(1.104 1)" font-size="49.6">hollow Fe<tspan class="s" font-size="28.5" dy="21.4">3</tspan><tspan dy="-21.4">O</tspan><tspan class="s" font-size="28.5" dy="21.4">4</tspan><tspan dy="-21.4">@0.25g RGO</tspan></text>
<rect x="892.1" y="313.9" width="125.4" height="7.9" fill="#00f"/>
<rect x="1017" y="316.6" width="2.8" height="2.4" fill="#00f"/>
<text transform="translate(1030.2 335.4) scale(1.104 1)" font-size="49.6">hollow Fe<tspan class="s" font-size="28.5" dy="21.4">3</tspan><tspan dy="-21.4">O</tspan><tspan class="s" font-size="28.5" dy="21.4">4</tspan><tspan dy="-21.4">@0.125g RGO</tspan></text>
<rect transform="translate(1030.2 335.4) scale(1.104 1)" x="377.00" y="-4.51" width="9.69" height="5.71" fill="#fefefe"/><rect transform="translate(1030.2 335.4) scale(1.104 1)" x="391.08" y="-4.51" width="9.31" height="5.71" fill="#fefefe"/>
</svg>
</body></html>
